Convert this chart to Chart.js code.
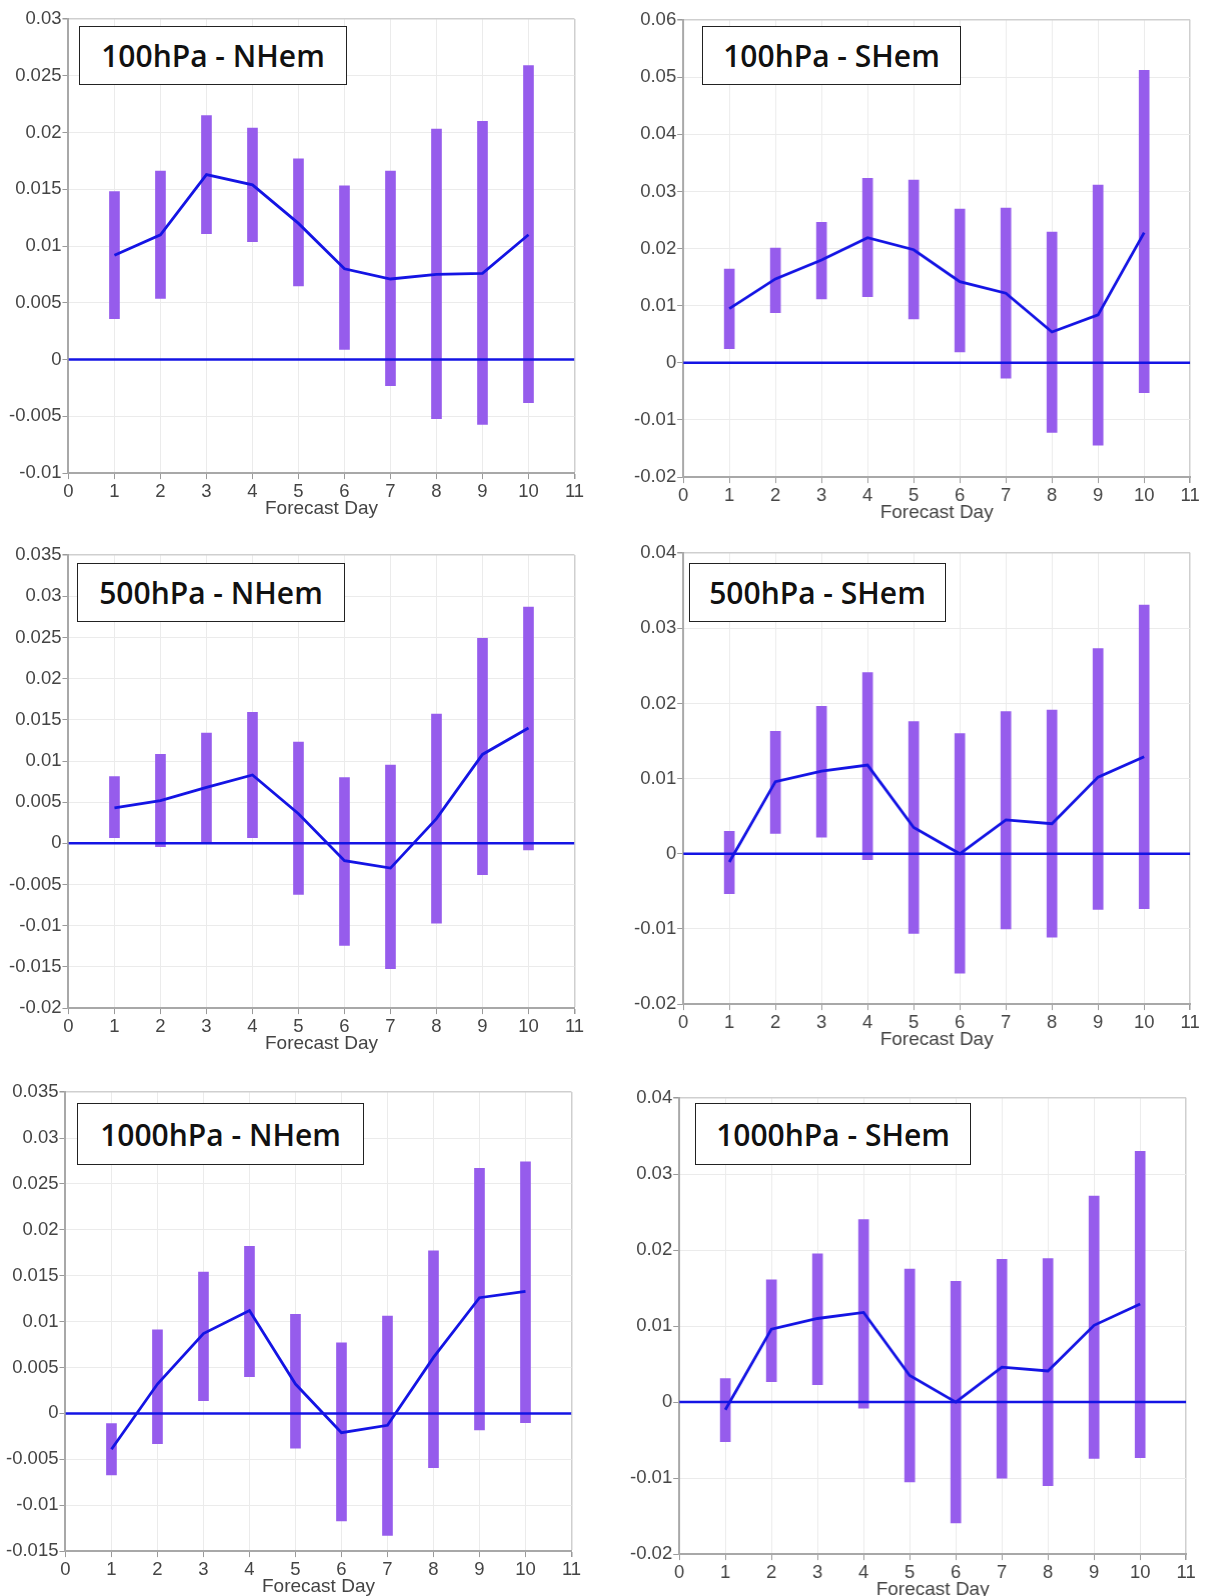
<!DOCTYPE html>
<html>
<head>
<meta charset="utf-8">
<script src="https://cdn.jsdelivr.net/npm/chart.js@4.4.1/dist/chart.umd.min.js"></script>
<style>
  html, body { margin: 0; padding: 0; background: #fff; }
  body { position: relative; width: 1209px; height: 1596px; overflow: hidden; }
  canvas { position: absolute; }
  .tag {
    position: absolute; box-sizing: border-box;
    border: 1.5px solid #222; background: #fff;
    display: flex; align-items: center; justify-content: center;
    font-family: "Open Sans", sans-serif; font-weight: 600; font-size: 30px;
    color: #111; white-space: nowrap; z-index: 5;
  }
</style>
</head>
<body>
<script>
// forecast days and x axis ticks
const days = [1, 2, 3, 4, 5, 6, 7, 8, 9, 10];
const xTicks = [0, 1, 2, 3, 4, 5, 6, 7, 8, 9, 10, 11];

// 100hPa - NHem
const nh100Mean = [0.0092, 0.0110, 0.0163, 0.0154, 0.0120, 0.0080, 0.0071, 0.0075, 0.0076, 0.0110];
const nh100Low  = [0.0036, 0.0054, 0.0111, 0.0104, 0.0065, 0.0009, -0.0023, -0.0052, -0.0057, -0.0038];
const nh100High = [0.0148, 0.0166, 0.0215, 0.0204, 0.0177, 0.0153, 0.0166, 0.0203, 0.0210, 0.0259];
const nh100Ticks = [-0.01, -0.005, 0, 0.005, 0.01, 0.015, 0.02, 0.025, 0.03];

// 100hPa - SHem
const sh100Mean = [0.0095, 0.0147, 0.0180, 0.0219, 0.0198, 0.0142, 0.0122, 0.0054, 0.0084, 0.0228];
const sh100Low  = [0.0025, 0.0088, 0.0112, 0.0116, 0.0077, 0.0019, -0.0027, -0.0122, -0.0144, -0.0052];
const sh100High = [0.0164, 0.0201, 0.0246, 0.0323, 0.0320, 0.0269, 0.0271, 0.0229, 0.0311, 0.0512];
const sh100Ticks = [-0.02, -0.01, 0, 0.01, 0.02, 0.03, 0.04, 0.05, 0.06];

// 500hPa - NHem
const nh500Mean = [0.0043, 0.0052, 0.0068, 0.0083, 0.0036, -0.0021, -0.0030, 0.0030, 0.0108, 0.0140];
const nh500Low  = [0.0007, -0.0004, 0.0000, 0.0007, -0.0062, -0.0124, -0.0152, -0.0097, -0.0038, -0.0008];
const nh500High = [0.0081, 0.0108, 0.0134, 0.0159, 0.0123, 0.0080, 0.0095, 0.0157, 0.0249, 0.0287];
const nh500Ticks = [-0.02, -0.015, -0.01, -0.005, 0, 0.005, 0.01, 0.015, 0.02, 0.025, 0.03, 0.035];

// 500hPa - SHem
const sh500Mean = [-0.0011, 0.0096, 0.0110, 0.0118, 0.0035, 0.0000, 0.0045, 0.0040, 0.0102, 0.0129];
const sh500Low  = [-0.0053, 0.0027, 0.0022, -0.0008, -0.0106, -0.0159, -0.0100, -0.0111, -0.0074, -0.0073];
const sh500High = [0.0030, 0.0163, 0.0196, 0.0241, 0.0176, 0.0160, 0.0189, 0.0191, 0.0273, 0.0331];
const sh500Ticks = [-0.02, -0.01, 0, 0.01, 0.02, 0.03, 0.04];

// 1000hPa - NHem
const nh1000Mean = [-0.0039, 0.0032, 0.0087, 0.0112, 0.0032, -0.0021, -0.0013, 0.0061, 0.0126, 0.0133];
const nh1000Low  = [-0.0067, -0.0033, 0.0014, 0.0040, -0.0038, -0.0117, -0.0133, -0.0059, -0.0018, -0.0010];
const nh1000High = [-0.0011, 0.0091, 0.0154, 0.0182, 0.0108, 0.0077, 0.0106, 0.0177, 0.0267, 0.0274];
const nh1000Ticks = [-0.015, -0.01, -0.005, 0, 0.005, 0.01, 0.015, 0.02, 0.025, 0.03, 0.035];

// 1000hPa - SHem
const sh1000Mean = [-0.0010, 0.0096, 0.0110, 0.0118, 0.0035, 0.0000, 0.0046, 0.0041, 0.0101, 0.0129];
const sh1000Low  = [-0.0052, 0.0027, 0.0023, -0.0008, -0.0105, -0.0159, -0.0100, -0.0110, -0.0074, -0.0073];
const sh1000High = [0.0031, 0.0161, 0.0195, 0.0240, 0.0175, 0.0159, 0.0188, 0.0189, 0.0271, 0.0330];
const sh1000Ticks = [-0.02, -0.01, 0, 0.01, 0.02, 0.03, 0.04];

const BAR_COLOR = 'rgb(150, 92, 236)';
const LINE_COLOR = 'rgb(20, 20, 228)';

Chart.defaults.font.family = '"Liberation Sans", Arial, sans-serif';
Chart.defaults.color = '#444';

// where each plot area sits on the page, and its label box
const panels = [
    { title: '100hPa - NHem', mean: nh100Mean, low: nh100Low, high: nh100High, ticks: nh100Ticks,
      area: [68, 19, 574, 473], tag: [79, 26, 268, 59] },
    { title: '100hPa - SHem', mean: sh100Mean, low: sh100Low, high: sh100High, ticks: sh100Ticks,
      area: [683, 20, 1189, 477], tag: [702, 26, 259, 59] },
    { title: '500hPa - NHem', mean: nh500Mean, low: nh500Low, high: nh500High, ticks: nh500Ticks,
      area: [68, 555, 574, 1008], tag: [77, 563, 268, 59] },
    { title: '500hPa - SHem', mean: sh500Mean, low: sh500Low, high: sh500High, ticks: sh500Ticks,
      area: [683, 553, 1189, 1004], tag: [689, 563, 257, 59] },
    { title: '1000hPa - NHem', mean: nh1000Mean, low: nh1000Low, high: nh1000High, ticks: nh1000Ticks,
      area: [65, 1092, 571, 1551], tag: [77, 1103, 287, 62] },
    { title: '1000hPa - SHem', mean: sh1000Mean, low: sh1000Low, high: sh1000High, ticks: sh1000Ticks,
      area: [679, 1098, 1185, 1554], tag: [695, 1103, 276, 62] }
];

function fmt(v) {
    const r = Math.round(v * 10000) / 10000;
    return r === 0 ? '0' : String(r);
}

function makePanel(p) {
    const [L, T, R, B] = p.area;
    const canvas = document.createElement('canvas');
    document.body.appendChild(canvas);
    const w0 = (R - L) + 90, h0 = (B - T) + 70;
    canvas.width = w0; canvas.height = h0;
    canvas.style.width = w0 + 'px'; canvas.style.height = h0 + 'px';

    const xMin = xTicks[0], xMax = xTicks[xTicks.length - 1];
    const yMin = p.ticks[0], yMax = p.ticks[p.ticks.length - 1];

    const chart = new Chart(canvas, {
        data: {
            datasets: [
                {
                    type: 'line',
                    data: [{ x: xMin, y: 0 }, { x: xMax, y: 0 }],
                    borderColor: LINE_COLOR,
                    borderWidth: 2.5,
                    pointRadius: 0,
                    order: 1
                },
                {
                    type: 'line',
                    data: days.map((d, i) => ({ x: d, y: p.mean[i] })),
                    borderColor: LINE_COLOR,
                    borderWidth: 2.8,
                    pointRadius: 0,
                    tension: 0,
                    order: 0
                },
                {
                    type: 'bar',
                    data: days.map((d, i) => ({ x: d, y: [p.low[i], p.high[i]] })),
                    backgroundColor: BAR_COLOR,
                    borderWidth: 0,
                    barThickness: 10,
                    order: 2
                }
            ]
        },
        options: {
            responsive: false,
            maintainAspectRatio: false,
            animation: false,
            plugins: { legend: { display: false }, tooltip: { enabled: false } },
            scales: {
                x: {
                    type: 'linear',
                    min: xMin,
                    max: xMax,
                    offset: false,
                    afterBuildTicks: (s) => { s.ticks = xTicks.map(v => ({ value: v })); },
                    ticks: { font: { size: 18.5 }, color: '#444', padding: 2, maxRotation: 0,
                             callback: (v) => String(v) },
                    grid: {
                        offset: false,
                        color: (c) => c.tick && c.tick.value === xMax ? '#cfcfcf' : '#ebebeb',
                        lineWidth: (c) => c.tick && c.tick.value === xMax ? 1.5 : 1,
                        tickLength: 6,
                        tickColor: '#9a9a9a'
                    },
                    border: { display: true, color: '#a8a8a8', width: 2 },
                    title: { display: true, text: 'Forecast Day', font: { size: 19 }, color: '#444',
                             padding: { top: -8, bottom: 0 } }
                },
                y: {
                    type: 'linear',
                    min: yMin,
                    max: yMax,
                    afterBuildTicks: (s) => { s.ticks = p.ticks.map(v => ({ value: v })); },
                    ticks: { font: { size: 18.5 }, color: '#444', padding: 1, callback: (v) => fmt(v) },
                    grid: {
                        color: (c) => c.tick && c.tick.value === yMax ? '#cfcfcf' : '#ebebeb',
                        lineWidth: (c) => c.tick && c.tick.value === yMax ? 1.5 : 1,
                        tickLength: 6,
                        tickColor: '#9a9a9a'
                    },
                    border: { display: true, color: '#a8a8a8', width: 2 }
                }
            }
        }
    });

    // fit plot area size, then move canvas so the plot area lands where it should
    let a = chart.chartArea;
    const w1 = w0 + (R - L) - (a.right - a.left);
    const h1 = h0 + (B - T) - (a.bottom - a.top);
    chart.resize(w1, h1);
    a = chart.chartArea;
    canvas.style.left = (L - a.left) + 'px';
    canvas.style.top = (T - a.top) + 'px';

    const tag = document.createElement('div');
    tag.className = 'tag';
    tag.textContent = p.title;
    const [tx, ty, tw, th] = p.tag;
    tag.style.left = tx + 'px'; tag.style.top = ty + 'px';
    tag.style.width = tw + 'px'; tag.style.height = th + 'px';
    document.body.appendChild(tag);
}

panels.forEach(makePanel);
</script>
</body>
</html>
